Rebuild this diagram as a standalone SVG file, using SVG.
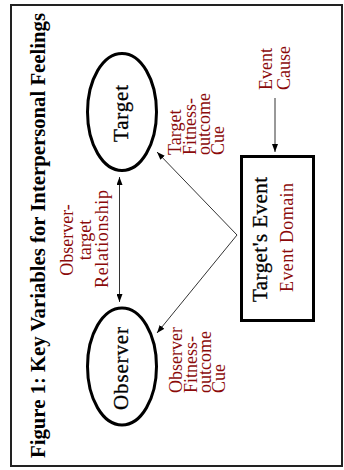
<svg xmlns="http://www.w3.org/2000/svg" width="344" height="470" viewBox="0 0 344 470">
<style>
.frame{fill:#fff;stroke:#222;stroke-width:2}
.node{fill:#fff;stroke:#000;stroke-width:3}
.lbl{font-family:"Liberation Serif","Times New Roman",serif;font-size:21px;fill:#000;stroke:#000;stroke-width:0.3}
.title{font-family:"Liberation Serif","Times New Roman",serif;font-size:20.5px;font-weight:bold;fill:#000}
.red{font-family:"Liberation Serif","Times New Roman",serif;font-size:18px;fill:#8b0a0a}
.conn{stroke:#333;stroke-width:1;fill:none}
</style>
<defs>
<marker id="ah" viewBox="0 0 8 6" refX="8" refY="3" markerWidth="8" markerHeight="6" markerUnits="userSpaceOnUse" orient="auto-start-reverse">
<path d="M0,0 L8,3 L0,6 z" fill="#000"/>
</marker>
</defs>
<rect class="frame" x="11" y="5" width="331" height="461"/>
<text class="title" transform="translate(45,458) rotate(-90)" textLength="445" lengthAdjust="spacingAndGlyphs">Figure 1: Key Variables for Interpersonal Feelings</text>
<g id="connectors">
<line class="conn" x1="119.5" y1="177" x2="119.5" y2="302" marker-start="url(#ah)" marker-end="url(#ah)"/>
<line class="conn" x1="237" y1="235" x2="157" y2="152" marker-end="url(#ah)"/>
<line class="conn" x1="237" y1="235" x2="157" y2="333" marker-end="url(#ah)"/>
<line class="conn" x1="275" y1="98" x2="275" y2="152" marker-end="url(#ah)"/>
</g>
<g id="target">
<ellipse class="node" cx="122" cy="112" rx="34.5" ry="58.5"/>
<text class="lbl" transform="translate(128,113.5) rotate(-90)" text-anchor="middle" textLength="57">Target</text>
</g>
<g id="observer">
<ellipse class="node" cx="122" cy="366.5" rx="34.5" ry="58.5"/>
<text class="lbl" transform="translate(128,368.5) rotate(-90)" text-anchor="middle" textLength="83">Observer</text>
</g>
<g id="targets-event">
<rect class="node" x="241.5" y="156.5" width="72" height="164"/>
<text class="lbl" transform="translate(267,239.5) rotate(-90)" text-anchor="middle" textLength="125">Target's Event</text>
<text class="red" transform="translate(293,237.5) rotate(-90)" text-anchor="middle" font-size="17.5" textLength="109">Event Domain</text>
</g>
<g id="relationship-label">
<text class="red" transform="translate(73,240) rotate(-90)" text-anchor="middle">Observer-</text>
<text class="red" transform="translate(91,240) rotate(-90)" text-anchor="middle">target</text>
<text class="red" transform="translate(108,239) rotate(-90)" text-anchor="middle" textLength="98">Relationship</text>
</g>
<g id="event-cause">
<text class="red" transform="translate(272,90) rotate(-90)">Event</text>
<text class="red" transform="translate(290,90) rotate(-90)">Cause</text>
</g>
<g id="target-cue">
<text class="red" transform="translate(181,155) rotate(-90)">Target</text>
<text class="red" transform="translate(195.5,155) rotate(-90)">Fitness-</text>
<text class="red" transform="translate(209.5,155) rotate(-90)">outcome</text>
<text class="red" transform="translate(223.5,155) rotate(-90)">Cue</text>
</g>
<g id="observer-cue">
<text class="red" transform="translate(182,393) rotate(-90)">Observer</text>
<text class="red" transform="translate(196.5,393) rotate(-90)">Fitness-</text>
<text class="red" transform="translate(211,393) rotate(-90)">outcome</text>
<text class="red" transform="translate(225,393) rotate(-90)">Cue</text>
</g>
</svg>
